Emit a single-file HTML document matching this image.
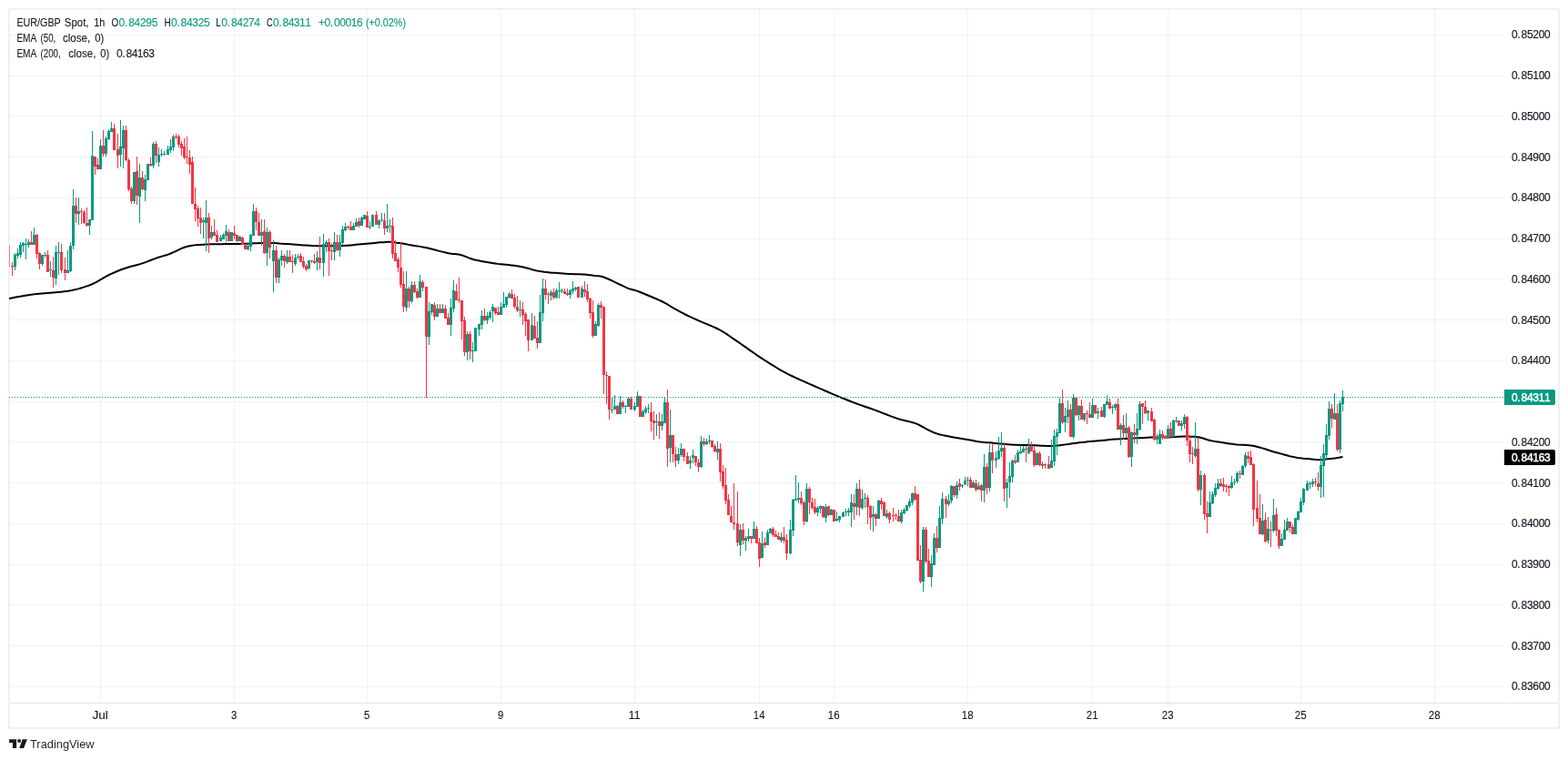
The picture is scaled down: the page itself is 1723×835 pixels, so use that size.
<!DOCTYPE html>
<html lang="en"><head><meta charset="utf-8"><title>EUR/GBP Spot, 1h - TradingView</title>
<style>html,body{margin:0;padding:0;background:#fff;overflow:hidden}svg{display:block}text{font-family:"Liberation Sans",sans-serif}</style>
</head><body>
<svg width="1723" height="835" viewBox="0 0 1723 835">
<rect width="1723" height="835" fill="#fff"/>
<g fill="rgba(42,46,57,0.06)" shape-rendering="crispEdges">
<rect x="11" y="38" width="1642" height="1"/>
<rect x="11" y="83" width="1642" height="1"/>
<rect x="11" y="127" width="1642" height="1"/>
<rect x="11" y="172" width="1642" height="1"/>
<rect x="11" y="217" width="1642" height="1"/>
<rect x="11" y="262" width="1642" height="1"/>
<rect x="11" y="306" width="1642" height="1"/>
<rect x="11" y="351" width="1642" height="1"/>
<rect x="11" y="396" width="1642" height="1"/>
<rect x="11" y="441" width="1642" height="1"/>
<rect x="11" y="485" width="1642" height="1"/>
<rect x="11" y="530" width="1642" height="1"/>
<rect x="11" y="575" width="1642" height="1"/>
<rect x="11" y="620" width="1642" height="1"/>
<rect x="11" y="664" width="1642" height="1"/>
<rect x="11" y="709" width="1642" height="1"/>
<rect x="11" y="754" width="1642" height="1"/>
<rect x="110" y="11" width="1" height="761"/>
<rect x="257" y="11" width="1" height="761"/>
<rect x="403" y="11" width="1" height="761"/>
<rect x="550" y="11" width="1" height="761"/>
<rect x="697" y="11" width="1" height="761"/>
<rect x="834" y="11" width="1" height="761"/>
<rect x="916" y="11" width="1" height="761"/>
<rect x="1063" y="11" width="1" height="761"/>
<rect x="1200" y="11" width="1" height="761"/>
<rect x="1283" y="11" width="1" height="761"/>
<rect x="1429" y="11" width="1" height="761"/>
<rect x="1576" y="11" width="1" height="761"/>
</g>
<g fill="#eef0f5" shape-rendering="crispEdges">
<rect x="9" y="9" width="1705" height="2"/>
<rect x="9" y="799" width="1705" height="2"/>
<rect x="9" y="9" width="2" height="792"/>
<rect x="1712" y="9" width="2" height="792"/>
</g>
<g fill="#e0e3eb" shape-rendering="crispEdges">
<rect x="11" y="772" width="1642" height="1"/>
<rect x="1654" y="772" width="58" height="1"/>
</g>
<polyline points="10.0,328.00 13.0,327.40 16.0,326.81 19.0,326.24 22.0,325.69 25.0,325.17 28.0,324.67 31.0,324.20 34.0,323.77 37.0,323.37 40.0,323.02 43.0,322.71 46.0,322.44 49.0,322.18 52.0,321.94 55.0,321.70 58.0,321.46 61.0,321.21 64.0,320.94 67.0,320.64 70.0,320.31 73.0,319.93 76.0,319.50 79.0,318.98 82.0,318.34 85.0,317.60 88.0,316.77 91.0,315.86 94.0,314.89 97.0,313.85 100.0,312.72 103.0,311.36 106.0,309.80 109.0,308.12 112.0,306.38 115.0,304.64 118.0,302.99 121.0,301.46 124.0,300.10 127.0,298.78 130.0,297.51 133.0,296.30 136.0,295.19 139.0,294.18 142.0,293.29 145.0,292.49 148.0,291.72 151.0,290.95 154.0,290.11 157.0,289.17 160.0,288.09 163.0,286.93 166.0,285.74 169.0,284.57 172.0,283.50 175.0,282.55 178.0,281.66 181.0,280.78 184.0,279.84 187.0,278.75 190.0,277.45 193.0,276.03 196.0,274.58 199.0,273.19 202.0,271.96 205.0,270.97 208.0,270.31 211.0,269.80 214.0,269.38 217.0,269.07 220.0,268.88 223.0,268.71 226.0,268.58 229.0,268.47 232.0,268.37 235.0,268.30 238.0,268.24 241.0,268.19 244.0,268.14 247.0,268.10 250.0,268.07 253.0,268.03 256.0,267.99 259.0,267.95 262.0,267.92 265.0,267.88 268.0,267.84 271.0,267.78 274.0,267.66 277.0,267.49 280.0,267.32 283.0,267.18 286.0,267.11 289.0,267.10 292.0,267.10 295.0,267.10 298.0,267.10 301.0,267.10 304.0,267.26 307.0,267.57 310.0,267.76 313.0,267.92 316.0,268.07 319.0,268.24 322.0,268.44 325.0,268.69 328.0,268.96 331.0,269.21 334.0,269.44 337.0,269.62 340.0,269.81 343.0,269.99 346.0,270.12 349.0,270.19 352.0,270.20 355.0,270.19 358.0,270.18 361.0,270.16 364.0,270.13 367.0,270.10 370.0,270.07 373.0,270.03 376.0,269.98 379.0,269.86 382.0,269.67 385.0,269.42 388.0,269.15 391.0,268.86 394.0,268.59 397.0,268.33 400.0,268.05 403.0,267.77 406.0,267.48 409.0,267.19 412.0,266.91 415.0,266.60 418.0,266.34 421.0,266.14 424.0,265.98 427.0,265.85 430.0,265.80 433.0,266.15 436.0,266.64 439.0,267.05 442.0,267.53 445.0,268.08 448.0,268.64 451.0,269.17 454.0,269.66 457.0,270.14 460.0,270.62 463.0,271.13 466.0,271.70 469.0,272.34 472.0,273.05 475.0,273.81 478.0,274.59 481.0,275.38 484.0,276.15 487.0,276.88 490.0,277.56 493.0,278.16 496.0,278.65 499.0,279.01 502.0,279.35 505.0,279.80 508.0,280.57 511.0,281.66 514.0,282.89 517.0,284.06 520.0,285.00 523.0,285.72 526.0,286.35 529.0,286.93 532.0,287.48 535.0,288.00 538.0,288.51 541.0,289.01 544.0,289.46 547.0,289.88 550.0,290.22 553.0,290.51 556.0,290.78 559.0,291.08 562.0,291.45 565.0,291.85 568.0,292.29 571.0,292.77 574.0,293.31 577.0,293.94 580.0,294.76 583.0,295.66 586.0,296.55 589.0,297.30 592.0,297.86 595.0,298.35 598.0,298.77 601.0,299.10 604.0,299.39 607.0,299.63 610.0,299.85 613.0,300.07 616.0,300.30 619.0,300.52 622.0,300.72 625.0,300.90 628.0,301.04 631.0,301.14 634.0,301.22 637.0,301.30 640.0,301.41 643.0,301.57 646.0,301.90 649.0,302.33 652.0,302.77 655.0,303.09 658.0,303.30 661.0,303.69 664.0,304.72 667.0,306.00 670.0,307.27 673.0,308.67 676.0,310.12 679.0,311.58 682.0,313.00 685.0,314.45 688.0,315.90 691.0,317.16 694.0,318.04 697.0,318.73 700.0,319.64 703.0,320.74 706.0,321.96 709.0,323.23 712.0,324.50 715.0,325.75 718.0,327.00 721.0,328.28 724.0,329.61 727.0,331.01 730.0,332.50 733.0,334.17 736.0,336.00 739.0,337.82 742.0,339.53 745.0,341.22 748.0,342.87 751.0,344.47 754.0,346.00 757.0,347.45 760.0,348.83 763.0,350.18 766.0,351.51 769.0,352.84 772.0,354.12 775.0,355.36 778.0,356.58 781.0,357.82 784.0,359.12 787.0,360.50 790.0,362.00 793.0,363.67 796.0,365.50 799.0,367.46 802.0,369.50 805.0,371.58 808.0,373.65 811.0,375.67 814.0,377.73 817.0,379.82 820.0,381.94 823.0,384.07 826.0,386.19 829.0,388.29 832.0,390.35 835.0,392.35 838.0,394.29 841.0,396.23 844.0,398.16 847.0,400.06 850.0,401.93 853.0,403.77 856.0,405.55 859.0,407.28 862.0,408.94 865.0,410.52 868.0,412.03 871.0,413.48 874.0,414.88 877.0,416.25 880.0,417.59 883.0,418.91 886.0,420.23 889.0,421.55 892.0,422.89 895.0,424.23 898.0,425.56 901.0,426.88 904.0,428.19 907.0,429.49 910.0,430.78 913.0,432.06 916.0,433.33 919.0,434.58 922.0,435.83 925.0,437.07 928.0,438.29 931.0,439.51 934.0,440.70 937.0,441.86 940.0,443.00 943.0,444.10 946.0,445.16 949.0,446.20 952.0,447.22 955.0,448.25 958.0,449.29 961.0,450.36 964.0,451.48 967.0,452.64 970.0,453.82 973.0,455.00 976.0,456.18 979.0,457.32 982.0,458.42 985.0,459.46 988.0,460.42 991.0,461.27 994.0,461.99 997.0,462.66 1000.0,463.40 1003.0,464.22 1006.0,465.15 1009.0,466.36 1012.0,468.00 1015.0,469.70 1018.0,471.32 1021.0,472.89 1024.0,474.28 1027.0,475.55 1030.0,476.60 1033.0,477.41 1036.0,478.12 1039.0,478.75 1042.0,479.33 1045.0,479.90 1048.0,480.45 1051.0,480.95 1054.0,481.44 1057.0,481.91 1060.0,482.40 1063.0,482.90 1066.0,483.46 1069.0,484.06 1072.0,484.66 1075.0,485.19 1078.0,485.60 1081.0,485.89 1084.0,486.13 1087.0,486.35 1090.0,486.60 1093.0,486.90 1096.0,487.22 1099.0,487.55 1102.0,487.85 1105.0,488.10 1108.0,488.30 1111.0,488.49 1114.0,488.66 1117.0,488.79 1120.0,488.90 1123.0,488.97 1126.0,489.03 1129.0,489.08 1132.0,489.13 1135.0,489.20 1138.0,489.32 1141.0,489.49 1144.0,489.68 1147.0,489.87 1150.0,490.02 1153.0,490.09 1156.0,490.05 1159.0,489.82 1162.0,489.50 1165.0,489.17 1168.0,488.80 1171.0,488.37 1174.0,487.90 1177.0,487.45 1180.0,487.05 1183.0,486.68 1186.0,486.33 1189.0,485.99 1192.0,485.66 1195.0,485.36 1198.0,485.09 1201.0,484.83 1204.0,484.58 1207.0,484.33 1210.0,484.06 1213.0,483.76 1216.0,483.43 1219.0,483.10 1222.0,482.81 1225.0,482.57 1228.0,482.38 1231.0,482.22 1234.0,482.07 1237.0,481.92 1240.0,481.77 1243.0,481.63 1246.0,481.48 1249.0,481.34 1252.0,481.20 1255.0,481.05 1258.0,480.90 1261.0,480.71 1264.0,480.53 1267.0,480.45 1270.0,480.40 1273.0,480.36 1276.0,480.33 1279.0,480.30 1282.0,480.26 1285.0,480.20 1288.0,480.10 1291.0,479.96 1294.0,479.80 1297.0,479.65 1300.0,479.54 1303.0,479.50 1306.0,479.54 1309.0,479.64 1312.0,479.80 1315.0,480.00 1318.0,480.46 1321.0,481.29 1324.0,482.30 1327.0,483.28 1330.0,484.04 1333.0,484.61 1336.0,485.12 1339.0,485.58 1342.0,486.03 1345.0,486.48 1348.0,486.94 1351.0,487.41 1354.0,487.85 1357.0,488.23 1360.0,488.52 1363.0,488.72 1366.0,488.86 1369.0,488.99 1372.0,489.15 1375.0,489.40 1378.0,489.93 1381.0,490.74 1384.0,491.58 1387.0,492.41 1390.0,493.29 1393.0,494.26 1396.0,495.31 1399.0,496.30 1402.0,497.08 1405.0,497.80 1408.0,498.61 1411.0,499.47 1414.0,500.33 1417.0,501.12 1420.0,501.78 1423.0,502.37 1426.0,502.90 1429.0,503.36 1432.0,503.70 1435.0,503.91 1438.0,504.10 1441.0,504.41 1444.0,504.79 1447.0,505.09 1450.0,505.20 1453.0,505.04 1456.0,504.72 1459.0,504.36 1462.0,504.04 1465.0,503.69 1468.0,503.30 1471.0,502.83 1474.0,502.23 1475.5,501.90" fill="none" stroke="#000" stroke-width="2" stroke-linejoin="round" stroke-linecap="butt"/>
<defs><clipPath id="pc"><rect x="10" y="10" width="1643" height="762.3"/></clipPath></defs>
<g clip-path="url(#pc)" shape-rendering="crispEdges">
<rect x="9" y="269" width="1" height="24" fill="#f6808a"/>
<rect x="8" y="269" width="3" height="24" fill="#f6808a"/>
<rect x="13" y="288" width="1" height="15" fill="#f23645"/>
<rect x="12" y="292" width="3" height="1" fill="#f23645"/>
<rect x="16" y="278" width="1" height="19" fill="#089981"/>
<rect x="15" y="280" width="3" height="13" fill="#089981"/>
<rect x="19" y="273" width="1" height="11" fill="#089981"/>
<rect x="18" y="278" width="3" height="3" fill="#089981"/>
<rect x="22" y="266" width="1" height="17" fill="#089981"/>
<rect x="21" y="269" width="3" height="11" fill="#089981"/>
<rect x="25" y="266" width="1" height="11" fill="#089981"/>
<rect x="24" y="267" width="3" height="3" fill="#089981"/>
<rect x="28" y="262" width="1" height="23" fill="#089981"/>
<rect x="27" y="268" width="3" height="1" fill="#089981"/>
<rect x="31" y="263" width="1" height="9" fill="#089981"/>
<rect x="30" y="266" width="3" height="3" fill="#089981"/>
<rect x="34" y="254" width="1" height="15" fill="#f23645"/>
<rect x="33" y="266" width="3" height="3" fill="#f23645"/>
<rect x="37" y="250" width="1" height="19" fill="#089981"/>
<rect x="36" y="258" width="3" height="11" fill="#089981"/>
<rect x="40" y="257" width="1" height="27" fill="#f23645"/>
<rect x="39" y="258" width="3" height="21" fill="#f23645"/>
<rect x="43" y="277" width="1" height="19" fill="#f23645"/>
<rect x="42" y="278" width="3" height="12" fill="#f23645"/>
<rect x="46" y="280" width="1" height="12" fill="#089981"/>
<rect x="45" y="280" width="3" height="10" fill="#089981"/>
<rect x="49" y="277" width="1" height="6" fill="#089981"/>
<rect x="48" y="280" width="3" height="1" fill="#089981"/>
<rect x="52" y="275" width="1" height="24" fill="#f23645"/>
<rect x="51" y="280" width="3" height="19" fill="#f23645"/>
<rect x="55" y="287" width="1" height="17" fill="#089981"/>
<rect x="54" y="296" width="3" height="1" fill="#089981"/>
<rect x="58" y="282" width="1" height="34" fill="#f23645"/>
<rect x="57" y="297" width="3" height="8" fill="#f23645"/>
<rect x="61" y="270" width="1" height="43" fill="#089981"/>
<rect x="60" y="277" width="3" height="29" fill="#089981"/>
<rect x="64" y="266" width="1" height="36" fill="#089981"/>
<rect x="63" y="277" width="3" height="1" fill="#089981"/>
<rect x="67" y="268" width="1" height="32" fill="#f23645"/>
<rect x="66" y="277" width="3" height="20" fill="#f23645"/>
<rect x="71" y="283" width="1" height="25" fill="#f23645"/>
<rect x="70" y="296" width="3" height="4" fill="#f23645"/>
<rect x="74" y="275" width="1" height="25" fill="#089981"/>
<rect x="73" y="297" width="3" height="3" fill="#089981"/>
<rect x="77" y="266" width="1" height="33" fill="#089981"/>
<rect x="76" y="270" width="3" height="28" fill="#089981"/>
<rect x="80" y="208" width="1" height="66" fill="#089981"/>
<rect x="79" y="226" width="3" height="44" fill="#089981"/>
<rect x="83" y="217" width="1" height="28" fill="#f23645"/>
<rect x="82" y="226" width="3" height="9" fill="#f23645"/>
<rect x="86" y="217" width="1" height="30" fill="#089981"/>
<rect x="85" y="232" width="3" height="3" fill="#089981"/>
<rect x="89" y="229" width="1" height="17" fill="#f23645"/>
<rect x="88" y="232" width="3" height="1" fill="#f23645"/>
<rect x="92" y="231" width="1" height="15" fill="#f23645"/>
<rect x="91" y="233" width="3" height="12" fill="#f23645"/>
<rect x="95" y="228" width="1" height="21" fill="#f23645"/>
<rect x="94" y="245" width="3" height="3" fill="#f23645"/>
<rect x="98" y="241" width="1" height="17" fill="#089981"/>
<rect x="97" y="241" width="3" height="7" fill="#089981"/>
<rect x="101" y="144" width="1" height="98" fill="#089981"/>
<rect x="100" y="171" width="3" height="71" fill="#089981"/>
<rect x="104" y="172" width="1" height="20" fill="#f23645"/>
<rect x="103" y="172" width="3" height="11" fill="#f23645"/>
<rect x="107" y="174" width="1" height="12" fill="#f23645"/>
<rect x="106" y="181" width="3" height="5" fill="#f23645"/>
<rect x="110" y="153" width="1" height="33" fill="#089981"/>
<rect x="109" y="160" width="3" height="26" fill="#089981"/>
<rect x="113" y="143" width="1" height="29" fill="#f23645"/>
<rect x="112" y="160" width="3" height="9" fill="#f23645"/>
<rect x="116" y="150" width="1" height="22" fill="#089981"/>
<rect x="115" y="152" width="3" height="17" fill="#089981"/>
<rect x="119" y="142" width="1" height="12" fill="#089981"/>
<rect x="118" y="144" width="3" height="9" fill="#089981"/>
<rect x="122" y="134" width="1" height="11" fill="#089981"/>
<rect x="121" y="141" width="3" height="4" fill="#089981"/>
<rect x="125" y="136" width="1" height="29" fill="#f23645"/>
<rect x="124" y="141" width="3" height="24" fill="#f23645"/>
<rect x="129" y="147" width="1" height="38" fill="#f23645"/>
<rect x="128" y="164" width="3" height="7" fill="#f23645"/>
<rect x="132" y="132" width="1" height="51" fill="#089981"/>
<rect x="131" y="161" width="3" height="9" fill="#089981"/>
<rect x="135" y="138" width="1" height="47" fill="#089981"/>
<rect x="134" y="143" width="3" height="20" fill="#089981"/>
<rect x="138" y="138" width="1" height="39" fill="#f23645"/>
<rect x="137" y="143" width="3" height="33" fill="#f23645"/>
<rect x="141" y="174" width="1" height="36" fill="#f23645"/>
<rect x="140" y="176" width="3" height="32" fill="#f23645"/>
<rect x="144" y="205" width="1" height="19" fill="#f23645"/>
<rect x="143" y="207" width="3" height="14" fill="#f23645"/>
<rect x="147" y="189" width="1" height="35" fill="#089981"/>
<rect x="146" y="189" width="3" height="32" fill="#089981"/>
<rect x="150" y="172" width="1" height="53" fill="#f23645"/>
<rect x="149" y="188" width="3" height="27" fill="#f23645"/>
<rect x="153" y="180" width="1" height="65" fill="#089981"/>
<rect x="152" y="195" width="3" height="21" fill="#089981"/>
<rect x="156" y="188" width="1" height="21" fill="#f23645"/>
<rect x="155" y="195" width="3" height="13" fill="#f23645"/>
<rect x="159" y="192" width="1" height="29" fill="#089981"/>
<rect x="158" y="197" width="3" height="12" fill="#089981"/>
<rect x="162" y="180" width="1" height="18" fill="#089981"/>
<rect x="161" y="180" width="3" height="18" fill="#089981"/>
<rect x="165" y="173" width="1" height="10" fill="#f23645"/>
<rect x="164" y="180" width="3" height="2" fill="#f23645"/>
<rect x="168" y="156" width="1" height="29" fill="#089981"/>
<rect x="167" y="158" width="3" height="24" fill="#089981"/>
<rect x="171" y="155" width="1" height="24" fill="#f23645"/>
<rect x="170" y="158" width="3" height="13" fill="#f23645"/>
<rect x="174" y="162" width="1" height="21" fill="#089981"/>
<rect x="173" y="170" width="3" height="8" fill="#089981"/>
<rect x="177" y="164" width="1" height="8" fill="#089981"/>
<rect x="176" y="169" width="3" height="1" fill="#089981"/>
<rect x="180" y="166" width="1" height="5" fill="#089981"/>
<rect x="179" y="169" width="3" height="1" fill="#089981"/>
<rect x="184" y="160" width="1" height="10" fill="#089981"/>
<rect x="183" y="164" width="3" height="6" fill="#089981"/>
<rect x="187" y="153" width="1" height="15" fill="#089981"/>
<rect x="186" y="161" width="3" height="4" fill="#089981"/>
<rect x="190" y="148" width="1" height="18" fill="#089981"/>
<rect x="189" y="150" width="3" height="12" fill="#089981"/>
<rect x="193" y="147" width="1" height="6" fill="#f23645"/>
<rect x="192" y="150" width="3" height="1" fill="#f23645"/>
<rect x="196" y="148" width="1" height="14" fill="#f23645"/>
<rect x="195" y="150" width="3" height="9" fill="#f23645"/>
<rect x="199" y="155" width="1" height="16" fill="#f23645"/>
<rect x="198" y="158" width="3" height="5" fill="#f23645"/>
<rect x="202" y="152" width="1" height="23" fill="#f23645"/>
<rect x="201" y="161" width="3" height="12" fill="#f23645"/>
<rect x="205" y="150" width="1" height="30" fill="#f23645"/>
<rect x="204" y="172" width="3" height="1" fill="#f23645"/>
<rect x="208" y="165" width="1" height="26" fill="#f23645"/>
<rect x="207" y="173" width="3" height="8" fill="#f23645"/>
<rect x="211" y="172" width="1" height="52" fill="#f23645"/>
<rect x="210" y="178" width="3" height="46" fill="#f23645"/>
<rect x="214" y="206" width="1" height="37" fill="#f23645"/>
<rect x="213" y="224" width="3" height="6" fill="#f23645"/>
<rect x="217" y="226" width="1" height="23" fill="#f23645"/>
<rect x="216" y="229" width="3" height="11" fill="#f23645"/>
<rect x="220" y="228" width="1" height="29" fill="#f23645"/>
<rect x="219" y="239" width="3" height="6" fill="#f23645"/>
<rect x="223" y="239" width="1" height="23" fill="#089981"/>
<rect x="222" y="242" width="3" height="2" fill="#089981"/>
<rect x="226" y="220" width="1" height="56" fill="#089981"/>
<rect x="225" y="239" width="3" height="6" fill="#089981"/>
<rect x="229" y="234" width="1" height="44" fill="#f23645"/>
<rect x="228" y="239" width="3" height="23" fill="#f23645"/>
<rect x="232" y="248" width="1" height="15" fill="#089981"/>
<rect x="231" y="255" width="3" height="6" fill="#089981"/>
<rect x="235" y="241" width="1" height="18" fill="#f23645"/>
<rect x="234" y="255" width="3" height="4" fill="#f23645"/>
<rect x="238" y="253" width="1" height="13" fill="#f23645"/>
<rect x="237" y="258" width="3" height="8" fill="#f23645"/>
<rect x="242" y="258" width="1" height="7" fill="#089981"/>
<rect x="241" y="261" width="3" height="4" fill="#089981"/>
<rect x="245" y="256" width="1" height="7" fill="#089981"/>
<rect x="244" y="258" width="3" height="5" fill="#089981"/>
<rect x="248" y="247" width="1" height="19" fill="#089981"/>
<rect x="247" y="254" width="3" height="5" fill="#089981"/>
<rect x="251" y="252" width="1" height="13" fill="#f23645"/>
<rect x="250" y="255" width="3" height="10" fill="#f23645"/>
<rect x="254" y="255" width="1" height="10" fill="#089981"/>
<rect x="253" y="255" width="3" height="10" fill="#089981"/>
<rect x="257" y="248" width="1" height="15" fill="#f23645"/>
<rect x="256" y="256" width="3" height="3" fill="#f23645"/>
<rect x="260" y="258" width="1" height="8" fill="#f23645"/>
<rect x="259" y="258" width="3" height="7" fill="#f23645"/>
<rect x="263" y="259" width="1" height="6" fill="#089981"/>
<rect x="262" y="260" width="3" height="5" fill="#089981"/>
<rect x="266" y="260" width="1" height="9" fill="#f23645"/>
<rect x="265" y="261" width="3" height="8" fill="#f23645"/>
<rect x="269" y="268" width="1" height="6" fill="#f23645"/>
<rect x="268" y="268" width="3" height="6" fill="#f23645"/>
<rect x="272" y="266" width="1" height="9" fill="#089981"/>
<rect x="271" y="270" width="3" height="4" fill="#089981"/>
<rect x="275" y="257" width="1" height="19" fill="#089981"/>
<rect x="274" y="258" width="3" height="13" fill="#089981"/>
<rect x="278" y="224" width="1" height="35" fill="#089981"/>
<rect x="277" y="232" width="3" height="27" fill="#089981"/>
<rect x="281" y="228" width="1" height="25" fill="#f23645"/>
<rect x="280" y="232" width="3" height="12" fill="#f23645"/>
<rect x="284" y="234" width="1" height="25" fill="#f23645"/>
<rect x="283" y="244" width="3" height="15" fill="#f23645"/>
<rect x="287" y="241" width="1" height="29" fill="#089981"/>
<rect x="286" y="255" width="3" height="4" fill="#089981"/>
<rect x="290" y="241" width="1" height="38" fill="#f23645"/>
<rect x="289" y="254" width="3" height="24" fill="#f23645"/>
<rect x="293" y="250" width="1" height="42" fill="#089981"/>
<rect x="292" y="255" width="3" height="23" fill="#089981"/>
<rect x="296" y="253" width="1" height="31" fill="#f23645"/>
<rect x="295" y="255" width="3" height="17" fill="#f23645"/>
<rect x="300" y="264" width="1" height="57" fill="#089981"/>
<rect x="299" y="275" width="3" height="12" fill="#089981"/>
<rect x="303" y="270" width="1" height="41" fill="#f23645"/>
<rect x="302" y="275" width="3" height="30" fill="#f23645"/>
<rect x="306" y="283" width="1" height="28" fill="#089981"/>
<rect x="305" y="285" width="3" height="20" fill="#089981"/>
<rect x="309" y="275" width="1" height="17" fill="#089981"/>
<rect x="308" y="281" width="3" height="5" fill="#089981"/>
<rect x="312" y="279" width="1" height="15" fill="#f23645"/>
<rect x="311" y="281" width="3" height="6" fill="#f23645"/>
<rect x="315" y="275" width="1" height="15" fill="#089981"/>
<rect x="314" y="282" width="3" height="6" fill="#089981"/>
<rect x="318" y="275" width="1" height="13" fill="#f23645"/>
<rect x="317" y="282" width="3" height="6" fill="#f23645"/>
<rect x="321" y="280" width="1" height="20" fill="#f23645"/>
<rect x="320" y="287" width="3" height="1" fill="#f23645"/>
<rect x="324" y="279" width="1" height="13" fill="#089981"/>
<rect x="323" y="283" width="3" height="7" fill="#089981"/>
<rect x="327" y="279" width="1" height="6" fill="#089981"/>
<rect x="326" y="282" width="3" height="1" fill="#089981"/>
<rect x="330" y="278" width="1" height="10" fill="#f23645"/>
<rect x="329" y="281" width="3" height="7" fill="#f23645"/>
<rect x="333" y="282" width="1" height="13" fill="#f23645"/>
<rect x="332" y="287" width="3" height="6" fill="#f23645"/>
<rect x="336" y="290" width="1" height="8" fill="#f23645"/>
<rect x="335" y="292" width="3" height="4" fill="#f23645"/>
<rect x="339" y="286" width="1" height="10" fill="#089981"/>
<rect x="338" y="286" width="3" height="9" fill="#089981"/>
<rect x="342" y="286" width="1" height="3" fill="#f23645"/>
<rect x="341" y="286" width="3" height="1" fill="#f23645"/>
<rect x="345" y="279" width="1" height="11" fill="#f23645"/>
<rect x="344" y="287" width="3" height="2" fill="#f23645"/>
<rect x="348" y="276" width="1" height="21" fill="#089981"/>
<rect x="347" y="283" width="3" height="5" fill="#089981"/>
<rect x="351" y="260" width="1" height="36" fill="#f23645"/>
<rect x="350" y="283" width="3" height="6" fill="#f23645"/>
<rect x="355" y="257" width="1" height="47" fill="#089981"/>
<rect x="354" y="268" width="3" height="21" fill="#089981"/>
<rect x="358" y="264" width="1" height="13" fill="#089981"/>
<rect x="357" y="266" width="3" height="4" fill="#089981"/>
<rect x="361" y="262" width="1" height="41" fill="#f23645"/>
<rect x="360" y="266" width="3" height="10" fill="#f23645"/>
<rect x="364" y="267" width="1" height="19" fill="#f23645"/>
<rect x="363" y="275" width="3" height="1" fill="#f23645"/>
<rect x="367" y="255" width="1" height="31" fill="#089981"/>
<rect x="366" y="266" width="3" height="11" fill="#089981"/>
<rect x="370" y="258" width="1" height="18" fill="#f23645"/>
<rect x="369" y="266" width="3" height="9" fill="#f23645"/>
<rect x="373" y="258" width="1" height="24" fill="#089981"/>
<rect x="372" y="266" width="3" height="9" fill="#089981"/>
<rect x="376" y="248" width="1" height="21" fill="#089981"/>
<rect x="375" y="252" width="3" height="15" fill="#089981"/>
<rect x="379" y="245" width="1" height="9" fill="#089981"/>
<rect x="378" y="249" width="3" height="4" fill="#089981"/>
<rect x="382" y="248" width="1" height="4" fill="#f23645"/>
<rect x="381" y="249" width="3" height="1" fill="#f23645"/>
<rect x="385" y="243" width="1" height="10" fill="#f23645"/>
<rect x="384" y="249" width="3" height="4" fill="#f23645"/>
<rect x="388" y="245" width="1" height="8" fill="#089981"/>
<rect x="387" y="248" width="3" height="5" fill="#089981"/>
<rect x="391" y="240" width="1" height="9" fill="#089981"/>
<rect x="390" y="244" width="3" height="5" fill="#089981"/>
<rect x="394" y="239" width="1" height="11" fill="#f23645"/>
<rect x="393" y="243" width="3" height="5" fill="#f23645"/>
<rect x="397" y="238" width="1" height="10" fill="#089981"/>
<rect x="396" y="239" width="3" height="9" fill="#089981"/>
<rect x="400" y="236" width="1" height="5" fill="#089981"/>
<rect x="399" y="236" width="3" height="5" fill="#089981"/>
<rect x="403" y="232" width="1" height="18" fill="#f23645"/>
<rect x="402" y="237" width="3" height="13" fill="#f23645"/>
<rect x="406" y="243" width="1" height="9" fill="#089981"/>
<rect x="405" y="249" width="3" height="1" fill="#089981"/>
<rect x="409" y="236" width="1" height="13" fill="#089981"/>
<rect x="408" y="236" width="3" height="13" fill="#089981"/>
<rect x="413" y="232" width="1" height="15" fill="#f23645"/>
<rect x="412" y="236" width="3" height="11" fill="#f23645"/>
<rect x="416" y="241" width="1" height="10" fill="#089981"/>
<rect x="415" y="242" width="3" height="5" fill="#089981"/>
<rect x="419" y="234" width="1" height="10" fill="#089981"/>
<rect x="418" y="241" width="3" height="1" fill="#089981"/>
<rect x="422" y="234" width="1" height="24" fill="#f23645"/>
<rect x="421" y="242" width="3" height="9" fill="#f23645"/>
<rect x="425" y="224" width="1" height="31" fill="#089981"/>
<rect x="424" y="248" width="3" height="3" fill="#089981"/>
<rect x="428" y="241" width="1" height="15" fill="#089981"/>
<rect x="427" y="248" width="3" height="1" fill="#089981"/>
<rect x="431" y="239" width="1" height="45" fill="#f23645"/>
<rect x="430" y="248" width="3" height="31" fill="#f23645"/>
<rect x="434" y="264" width="1" height="23" fill="#f23645"/>
<rect x="433" y="278" width="3" height="9" fill="#f23645"/>
<rect x="437" y="283" width="1" height="16" fill="#f23645"/>
<rect x="436" y="285" width="3" height="9" fill="#f23645"/>
<rect x="440" y="266" width="1" height="50" fill="#f23645"/>
<rect x="439" y="294" width="3" height="19" fill="#f23645"/>
<rect x="443" y="298" width="1" height="45" fill="#f23645"/>
<rect x="442" y="312" width="3" height="25" fill="#f23645"/>
<rect x="446" y="298" width="1" height="44" fill="#089981"/>
<rect x="445" y="317" width="3" height="21" fill="#089981"/>
<rect x="449" y="315" width="1" height="23" fill="#f23645"/>
<rect x="448" y="317" width="3" height="14" fill="#f23645"/>
<rect x="452" y="309" width="1" height="24" fill="#089981"/>
<rect x="451" y="313" width="3" height="18" fill="#089981"/>
<rect x="455" y="309" width="1" height="13" fill="#f23645"/>
<rect x="454" y="313" width="3" height="8" fill="#f23645"/>
<rect x="458" y="317" width="1" height="11" fill="#f23645"/>
<rect x="457" y="320" width="3" height="7" fill="#f23645"/>
<rect x="461" y="302" width="1" height="25" fill="#089981"/>
<rect x="460" y="309" width="3" height="18" fill="#089981"/>
<rect x="464" y="308" width="1" height="12" fill="#f23645"/>
<rect x="463" y="310" width="3" height="6" fill="#f23645"/>
<rect x="468" y="315" width="1" height="122" fill="#f23645"/>
<rect x="467" y="315" width="3" height="55" fill="#f23645"/>
<rect x="471" y="332" width="1" height="47" fill="#089981"/>
<rect x="470" y="342" width="3" height="28" fill="#089981"/>
<rect x="474" y="334" width="1" height="12" fill="#089981"/>
<rect x="473" y="334" width="3" height="9" fill="#089981"/>
<rect x="477" y="332" width="1" height="20" fill="#f23645"/>
<rect x="476" y="335" width="3" height="13" fill="#f23645"/>
<rect x="480" y="334" width="1" height="14" fill="#089981"/>
<rect x="479" y="339" width="3" height="9" fill="#089981"/>
<rect x="483" y="334" width="1" height="10" fill="#f23645"/>
<rect x="482" y="339" width="3" height="5" fill="#f23645"/>
<rect x="486" y="334" width="1" height="10" fill="#089981"/>
<rect x="485" y="339" width="3" height="5" fill="#089981"/>
<rect x="489" y="335" width="1" height="15" fill="#f23645"/>
<rect x="488" y="339" width="3" height="11" fill="#f23645"/>
<rect x="492" y="344" width="1" height="13" fill="#f23645"/>
<rect x="491" y="349" width="3" height="8" fill="#f23645"/>
<rect x="495" y="328" width="1" height="41" fill="#089981"/>
<rect x="494" y="338" width="3" height="19" fill="#089981"/>
<rect x="498" y="308" width="1" height="35" fill="#089981"/>
<rect x="497" y="319" width="3" height="20" fill="#089981"/>
<rect x="501" y="312" width="1" height="18" fill="#f23645"/>
<rect x="500" y="320" width="3" height="10" fill="#f23645"/>
<rect x="504" y="305" width="1" height="28" fill="#f23645"/>
<rect x="503" y="329" width="3" height="1" fill="#f23645"/>
<rect x="507" y="330" width="1" height="43" fill="#f23645"/>
<rect x="506" y="330" width="3" height="23" fill="#f23645"/>
<rect x="510" y="348" width="1" height="43" fill="#f23645"/>
<rect x="509" y="352" width="3" height="35" fill="#f23645"/>
<rect x="513" y="364" width="1" height="32" fill="#089981"/>
<rect x="512" y="367" width="3" height="20" fill="#089981"/>
<rect x="516" y="364" width="1" height="31" fill="#f23645"/>
<rect x="515" y="367" width="3" height="19" fill="#f23645"/>
<rect x="519" y="376" width="1" height="22" fill="#089981"/>
<rect x="518" y="385" width="3" height="1" fill="#089981"/>
<rect x="522" y="360" width="1" height="26" fill="#089981"/>
<rect x="521" y="360" width="3" height="26" fill="#089981"/>
<rect x="526" y="356" width="1" height="13" fill="#089981"/>
<rect x="525" y="356" width="3" height="6" fill="#089981"/>
<rect x="529" y="341" width="1" height="21" fill="#089981"/>
<rect x="528" y="347" width="3" height="10" fill="#089981"/>
<rect x="532" y="339" width="1" height="14" fill="#f23645"/>
<rect x="531" y="347" width="3" height="5" fill="#f23645"/>
<rect x="535" y="343" width="1" height="13" fill="#089981"/>
<rect x="534" y="347" width="3" height="5" fill="#089981"/>
<rect x="538" y="341" width="1" height="10" fill="#089981"/>
<rect x="537" y="343" width="3" height="6" fill="#089981"/>
<rect x="541" y="334" width="1" height="20" fill="#089981"/>
<rect x="540" y="337" width="3" height="5" fill="#089981"/>
<rect x="544" y="338" width="1" height="8" fill="#f23645"/>
<rect x="543" y="338" width="3" height="6" fill="#f23645"/>
<rect x="547" y="337" width="1" height="9" fill="#f23645"/>
<rect x="546" y="343" width="3" height="3" fill="#f23645"/>
<rect x="550" y="332" width="1" height="14" fill="#089981"/>
<rect x="549" y="337" width="3" height="9" fill="#089981"/>
<rect x="553" y="321" width="1" height="17" fill="#089981"/>
<rect x="552" y="334" width="3" height="4" fill="#089981"/>
<rect x="556" y="326" width="1" height="12" fill="#089981"/>
<rect x="555" y="326" width="3" height="9" fill="#089981"/>
<rect x="559" y="321" width="1" height="7" fill="#089981"/>
<rect x="558" y="323" width="3" height="4" fill="#089981"/>
<rect x="562" y="318" width="1" height="10" fill="#f23645"/>
<rect x="561" y="323" width="3" height="5" fill="#f23645"/>
<rect x="565" y="323" width="1" height="16" fill="#f23645"/>
<rect x="564" y="327" width="3" height="10" fill="#f23645"/>
<rect x="568" y="325" width="1" height="18" fill="#f23645"/>
<rect x="567" y="337" width="3" height="4" fill="#f23645"/>
<rect x="571" y="330" width="1" height="18" fill="#089981"/>
<rect x="570" y="340" width="3" height="1" fill="#089981"/>
<rect x="574" y="332" width="1" height="25" fill="#f23645"/>
<rect x="573" y="340" width="3" height="6" fill="#f23645"/>
<rect x="577" y="343" width="1" height="26" fill="#f23645"/>
<rect x="576" y="345" width="3" height="8" fill="#f23645"/>
<rect x="580" y="351" width="1" height="35" fill="#f23645"/>
<rect x="579" y="351" width="3" height="23" fill="#f23645"/>
<rect x="584" y="344" width="1" height="30" fill="#089981"/>
<rect x="583" y="357" width="3" height="17" fill="#089981"/>
<rect x="587" y="347" width="1" height="25" fill="#f23645"/>
<rect x="586" y="358" width="3" height="14" fill="#f23645"/>
<rect x="590" y="353" width="1" height="30" fill="#f23645"/>
<rect x="589" y="371" width="3" height="6" fill="#f23645"/>
<rect x="593" y="324" width="1" height="53" fill="#089981"/>
<rect x="592" y="343" width="3" height="34" fill="#089981"/>
<rect x="596" y="306" width="1" height="47" fill="#089981"/>
<rect x="595" y="317" width="3" height="27" fill="#089981"/>
<rect x="599" y="307" width="1" height="22" fill="#f23645"/>
<rect x="598" y="317" width="3" height="7" fill="#f23645"/>
<rect x="602" y="321" width="1" height="13" fill="#f23645"/>
<rect x="601" y="323" width="3" height="1" fill="#f23645"/>
<rect x="605" y="319" width="1" height="11" fill="#089981"/>
<rect x="604" y="321" width="3" height="4" fill="#089981"/>
<rect x="608" y="317" width="1" height="12" fill="#f23645"/>
<rect x="607" y="321" width="3" height="6" fill="#f23645"/>
<rect x="611" y="317" width="1" height="11" fill="#089981"/>
<rect x="610" y="319" width="3" height="8" fill="#089981"/>
<rect x="614" y="310" width="1" height="18" fill="#089981"/>
<rect x="613" y="319" width="3" height="1" fill="#089981"/>
<rect x="617" y="317" width="1" height="5" fill="#089981"/>
<rect x="616" y="319" width="3" height="1" fill="#089981"/>
<rect x="620" y="317" width="1" height="6" fill="#f23645"/>
<rect x="619" y="320" width="3" height="3" fill="#f23645"/>
<rect x="623" y="317" width="1" height="8" fill="#f23645"/>
<rect x="622" y="322" width="3" height="2" fill="#f23645"/>
<rect x="626" y="318" width="1" height="10" fill="#089981"/>
<rect x="625" y="319" width="3" height="5" fill="#089981"/>
<rect x="629" y="309" width="1" height="14" fill="#089981"/>
<rect x="628" y="317" width="3" height="3" fill="#089981"/>
<rect x="632" y="315" width="1" height="5" fill="#089981"/>
<rect x="631" y="316" width="3" height="2" fill="#089981"/>
<rect x="635" y="315" width="1" height="12" fill="#f23645"/>
<rect x="634" y="315" width="3" height="12" fill="#f23645"/>
<rect x="639" y="314" width="1" height="13" fill="#089981"/>
<rect x="638" y="317" width="3" height="10" fill="#089981"/>
<rect x="642" y="309" width="1" height="17" fill="#f23645"/>
<rect x="641" y="318" width="3" height="3" fill="#f23645"/>
<rect x="645" y="312" width="1" height="20" fill="#f23645"/>
<rect x="644" y="320" width="3" height="9" fill="#f23645"/>
<rect x="648" y="327" width="1" height="23" fill="#f23645"/>
<rect x="647" y="328" width="3" height="16" fill="#f23645"/>
<rect x="651" y="330" width="1" height="41" fill="#f23645"/>
<rect x="650" y="343" width="3" height="26" fill="#f23645"/>
<rect x="654" y="353" width="1" height="16" fill="#089981"/>
<rect x="653" y="356" width="3" height="13" fill="#089981"/>
<rect x="657" y="333" width="1" height="26" fill="#089981"/>
<rect x="656" y="335" width="3" height="23" fill="#089981"/>
<rect x="660" y="331" width="1" height="19" fill="#f23645"/>
<rect x="659" y="335" width="3" height="3" fill="#f23645"/>
<rect x="663" y="337" width="1" height="96" fill="#f23645"/>
<rect x="662" y="337" width="3" height="75" fill="#f23645"/>
<rect x="666" y="408" width="1" height="36" fill="#f23645"/>
<rect x="665" y="412" width="3" height="1" fill="#f23645"/>
<rect x="669" y="413" width="1" height="48" fill="#f23645"/>
<rect x="668" y="413" width="3" height="37" fill="#f23645"/>
<rect x="672" y="437" width="1" height="17" fill="#089981"/>
<rect x="671" y="450" width="3" height="1" fill="#089981"/>
<rect x="675" y="434" width="1" height="16" fill="#089981"/>
<rect x="674" y="446" width="3" height="4" fill="#089981"/>
<rect x="678" y="445" width="1" height="10" fill="#f23645"/>
<rect x="677" y="446" width="3" height="9" fill="#f23645"/>
<rect x="681" y="435" width="1" height="20" fill="#089981"/>
<rect x="680" y="442" width="3" height="13" fill="#089981"/>
<rect x="684" y="440" width="1" height="9" fill="#f23645"/>
<rect x="683" y="442" width="3" height="5" fill="#f23645"/>
<rect x="687" y="445" width="1" height="9" fill="#089981"/>
<rect x="686" y="446" width="3" height="1" fill="#089981"/>
<rect x="690" y="436" width="1" height="11" fill="#089981"/>
<rect x="689" y="438" width="3" height="9" fill="#089981"/>
<rect x="693" y="436" width="1" height="14" fill="#f23645"/>
<rect x="692" y="438" width="3" height="12" fill="#f23645"/>
<rect x="697" y="442" width="1" height="10" fill="#089981"/>
<rect x="696" y="446" width="3" height="4" fill="#089981"/>
<rect x="700" y="430" width="1" height="17" fill="#089981"/>
<rect x="699" y="435" width="3" height="12" fill="#089981"/>
<rect x="703" y="435" width="1" height="23" fill="#f23645"/>
<rect x="702" y="435" width="3" height="23" fill="#f23645"/>
<rect x="706" y="450" width="1" height="8" fill="#089981"/>
<rect x="705" y="452" width="3" height="6" fill="#089981"/>
<rect x="709" y="446" width="1" height="9" fill="#089981"/>
<rect x="708" y="449" width="3" height="4" fill="#089981"/>
<rect x="712" y="444" width="1" height="10" fill="#089981"/>
<rect x="711" y="448" width="3" height="1" fill="#089981"/>
<rect x="715" y="442" width="1" height="32" fill="#f23645"/>
<rect x="714" y="453" width="3" height="10" fill="#f23645"/>
<rect x="718" y="452" width="1" height="31" fill="#f23645"/>
<rect x="717" y="462" width="3" height="3" fill="#f23645"/>
<rect x="721" y="455" width="1" height="24" fill="#089981"/>
<rect x="720" y="463" width="3" height="1" fill="#089981"/>
<rect x="724" y="453" width="1" height="29" fill="#f23645"/>
<rect x="723" y="463" width="3" height="5" fill="#f23645"/>
<rect x="727" y="455" width="1" height="18" fill="#089981"/>
<rect x="726" y="463" width="3" height="5" fill="#089981"/>
<rect x="730" y="436" width="1" height="29" fill="#089981"/>
<rect x="729" y="442" width="3" height="23" fill="#089981"/>
<rect x="733" y="428" width="1" height="85" fill="#f23645"/>
<rect x="732" y="442" width="3" height="51" fill="#f23645"/>
<rect x="736" y="450" width="1" height="58" fill="#089981"/>
<rect x="735" y="478" width="3" height="14" fill="#089981"/>
<rect x="739" y="478" width="1" height="30" fill="#f23645"/>
<rect x="738" y="478" width="3" height="21" fill="#f23645"/>
<rect x="742" y="491" width="1" height="22" fill="#f23645"/>
<rect x="741" y="499" width="3" height="7" fill="#f23645"/>
<rect x="745" y="492" width="1" height="18" fill="#089981"/>
<rect x="744" y="499" width="3" height="7" fill="#089981"/>
<rect x="748" y="487" width="1" height="15" fill="#089981"/>
<rect x="747" y="493" width="3" height="7" fill="#089981"/>
<rect x="751" y="493" width="1" height="14" fill="#f23645"/>
<rect x="750" y="493" width="3" height="9" fill="#f23645"/>
<rect x="755" y="497" width="1" height="13" fill="#f23645"/>
<rect x="754" y="501" width="3" height="9" fill="#f23645"/>
<rect x="758" y="501" width="1" height="14" fill="#089981"/>
<rect x="757" y="506" width="3" height="3" fill="#089981"/>
<rect x="761" y="494" width="1" height="15" fill="#089981"/>
<rect x="760" y="500" width="3" height="3" fill="#089981"/>
<rect x="764" y="501" width="1" height="11" fill="#f23645"/>
<rect x="763" y="501" width="3" height="7" fill="#f23645"/>
<rect x="767" y="504" width="1" height="15" fill="#f23645"/>
<rect x="766" y="508" width="3" height="5" fill="#f23645"/>
<rect x="770" y="479" width="1" height="35" fill="#089981"/>
<rect x="769" y="485" width="3" height="28" fill="#089981"/>
<rect x="773" y="481" width="1" height="9" fill="#f23645"/>
<rect x="772" y="485" width="3" height="3" fill="#f23645"/>
<rect x="776" y="482" width="1" height="7" fill="#089981"/>
<rect x="775" y="485" width="3" height="3" fill="#089981"/>
<rect x="779" y="478" width="1" height="10" fill="#089981"/>
<rect x="778" y="484" width="3" height="1" fill="#089981"/>
<rect x="782" y="484" width="1" height="8" fill="#f23645"/>
<rect x="781" y="484" width="3" height="7" fill="#f23645"/>
<rect x="785" y="488" width="1" height="9" fill="#f23645"/>
<rect x="784" y="490" width="3" height="6" fill="#f23645"/>
<rect x="788" y="485" width="1" height="20" fill="#089981"/>
<rect x="787" y="493" width="3" height="4" fill="#089981"/>
<rect x="791" y="487" width="1" height="42" fill="#f23645"/>
<rect x="790" y="493" width="3" height="26" fill="#f23645"/>
<rect x="794" y="511" width="1" height="26" fill="#f23645"/>
<rect x="793" y="518" width="3" height="16" fill="#f23645"/>
<rect x="797" y="514" width="1" height="40" fill="#f23645"/>
<rect x="796" y="533" width="3" height="17" fill="#f23645"/>
<rect x="800" y="543" width="1" height="23" fill="#f23645"/>
<rect x="799" y="549" width="3" height="17" fill="#f23645"/>
<rect x="803" y="556" width="1" height="18" fill="#f23645"/>
<rect x="802" y="567" width="3" height="7" fill="#f23645"/>
<rect x="806" y="531" width="1" height="51" fill="#f23645"/>
<rect x="805" y="574" width="3" height="2" fill="#f23645"/>
<rect x="810" y="540" width="1" height="60" fill="#f23645"/>
<rect x="809" y="575" width="3" height="21" fill="#f23645"/>
<rect x="813" y="576" width="1" height="35" fill="#089981"/>
<rect x="812" y="582" width="3" height="17" fill="#089981"/>
<rect x="816" y="575" width="1" height="23" fill="#f23645"/>
<rect x="815" y="582" width="3" height="12" fill="#f23645"/>
<rect x="819" y="589" width="1" height="16" fill="#089981"/>
<rect x="818" y="591" width="3" height="3" fill="#089981"/>
<rect x="822" y="581" width="1" height="14" fill="#089981"/>
<rect x="821" y="589" width="3" height="3" fill="#089981"/>
<rect x="825" y="589" width="1" height="8" fill="#f23645"/>
<rect x="824" y="589" width="3" height="3" fill="#f23645"/>
<rect x="828" y="573" width="1" height="19" fill="#089981"/>
<rect x="827" y="581" width="3" height="11" fill="#089981"/>
<rect x="831" y="578" width="1" height="19" fill="#f23645"/>
<rect x="830" y="581" width="3" height="16" fill="#f23645"/>
<rect x="834" y="591" width="1" height="32" fill="#f23645"/>
<rect x="833" y="596" width="3" height="18" fill="#f23645"/>
<rect x="837" y="584" width="1" height="29" fill="#089981"/>
<rect x="836" y="597" width="3" height="16" fill="#089981"/>
<rect x="840" y="591" width="1" height="11" fill="#f23645"/>
<rect x="839" y="596" width="3" height="3" fill="#f23645"/>
<rect x="843" y="582" width="1" height="17" fill="#089981"/>
<rect x="842" y="585" width="3" height="14" fill="#089981"/>
<rect x="846" y="580" width="1" height="6" fill="#089981"/>
<rect x="845" y="581" width="3" height="5" fill="#089981"/>
<rect x="849" y="579" width="1" height="11" fill="#f23645"/>
<rect x="848" y="581" width="3" height="7" fill="#f23645"/>
<rect x="852" y="583" width="1" height="7" fill="#f23645"/>
<rect x="851" y="587" width="3" height="3" fill="#f23645"/>
<rect x="855" y="585" width="1" height="8" fill="#f23645"/>
<rect x="854" y="589" width="3" height="4" fill="#f23645"/>
<rect x="858" y="585" width="1" height="11" fill="#089981"/>
<rect x="857" y="590" width="3" height="4" fill="#089981"/>
<rect x="861" y="579" width="1" height="18" fill="#f23645"/>
<rect x="860" y="590" width="3" height="4" fill="#f23645"/>
<rect x="864" y="587" width="1" height="28" fill="#f23645"/>
<rect x="863" y="593" width="3" height="15" fill="#f23645"/>
<rect x="868" y="571" width="1" height="38" fill="#089981"/>
<rect x="867" y="582" width="3" height="26" fill="#089981"/>
<rect x="871" y="548" width="1" height="41" fill="#089981"/>
<rect x="870" y="549" width="3" height="34" fill="#089981"/>
<rect x="874" y="522" width="1" height="28" fill="#089981"/>
<rect x="873" y="548" width="3" height="2" fill="#089981"/>
<rect x="877" y="530" width="1" height="23" fill="#089981"/>
<rect x="876" y="547" width="3" height="2" fill="#089981"/>
<rect x="880" y="540" width="1" height="15" fill="#f23645"/>
<rect x="879" y="547" width="3" height="6" fill="#f23645"/>
<rect x="883" y="550" width="1" height="27" fill="#f23645"/>
<rect x="882" y="552" width="3" height="21" fill="#f23645"/>
<rect x="886" y="531" width="1" height="43" fill="#089981"/>
<rect x="885" y="537" width="3" height="36" fill="#089981"/>
<rect x="889" y="535" width="1" height="30" fill="#f23645"/>
<rect x="888" y="537" width="3" height="15" fill="#f23645"/>
<rect x="892" y="547" width="1" height="13" fill="#f23645"/>
<rect x="891" y="552" width="3" height="6" fill="#f23645"/>
<rect x="895" y="548" width="1" height="17" fill="#f23645"/>
<rect x="894" y="557" width="3" height="6" fill="#f23645"/>
<rect x="898" y="556" width="1" height="11" fill="#089981"/>
<rect x="897" y="558" width="3" height="5" fill="#089981"/>
<rect x="901" y="555" width="1" height="9" fill="#089981"/>
<rect x="900" y="556" width="3" height="3" fill="#089981"/>
<rect x="904" y="556" width="1" height="13" fill="#f23645"/>
<rect x="903" y="556" width="3" height="12" fill="#f23645"/>
<rect x="907" y="554" width="1" height="20" fill="#089981"/>
<rect x="906" y="557" width="3" height="12" fill="#089981"/>
<rect x="910" y="556" width="1" height="11" fill="#f23645"/>
<rect x="909" y="556" width="3" height="10" fill="#f23645"/>
<rect x="913" y="559" width="1" height="7" fill="#089981"/>
<rect x="912" y="560" width="3" height="6" fill="#089981"/>
<rect x="916" y="560" width="1" height="13" fill="#f23645"/>
<rect x="915" y="560" width="3" height="13" fill="#f23645"/>
<rect x="919" y="562" width="1" height="11" fill="#089981"/>
<rect x="918" y="570" width="3" height="2" fill="#089981"/>
<rect x="922" y="567" width="1" height="7" fill="#089981"/>
<rect x="921" y="567" width="3" height="4" fill="#089981"/>
<rect x="926" y="562" width="1" height="6" fill="#089981"/>
<rect x="925" y="563" width="3" height="5" fill="#089981"/>
<rect x="929" y="559" width="1" height="8" fill="#089981"/>
<rect x="928" y="562" width="3" height="1" fill="#089981"/>
<rect x="932" y="558" width="1" height="9" fill="#089981"/>
<rect x="931" y="561" width="3" height="2" fill="#089981"/>
<rect x="935" y="543" width="1" height="36" fill="#089981"/>
<rect x="934" y="552" width="3" height="11" fill="#089981"/>
<rect x="938" y="543" width="1" height="28" fill="#f23645"/>
<rect x="937" y="553" width="3" height="4" fill="#f23645"/>
<rect x="941" y="531" width="1" height="35" fill="#089981"/>
<rect x="940" y="537" width="3" height="20" fill="#089981"/>
<rect x="944" y="527" width="1" height="40" fill="#f23645"/>
<rect x="943" y="537" width="3" height="21" fill="#f23645"/>
<rect x="947" y="538" width="1" height="22" fill="#089981"/>
<rect x="946" y="548" width="3" height="10" fill="#089981"/>
<rect x="950" y="542" width="1" height="16" fill="#089981"/>
<rect x="949" y="547" width="3" height="1" fill="#089981"/>
<rect x="953" y="544" width="1" height="32" fill="#f23645"/>
<rect x="952" y="547" width="3" height="10" fill="#f23645"/>
<rect x="956" y="555" width="1" height="27" fill="#f23645"/>
<rect x="955" y="556" width="3" height="13" fill="#f23645"/>
<rect x="959" y="556" width="1" height="28" fill="#089981"/>
<rect x="958" y="565" width="3" height="3" fill="#089981"/>
<rect x="962" y="564" width="1" height="14" fill="#f23645"/>
<rect x="961" y="565" width="3" height="5" fill="#f23645"/>
<rect x="965" y="549" width="1" height="21" fill="#089981"/>
<rect x="964" y="550" width="3" height="20" fill="#089981"/>
<rect x="968" y="547" width="1" height="13" fill="#f23645"/>
<rect x="967" y="550" width="3" height="4" fill="#f23645"/>
<rect x="971" y="551" width="1" height="16" fill="#f23645"/>
<rect x="970" y="552" width="3" height="15" fill="#f23645"/>
<rect x="974" y="560" width="1" height="10" fill="#089981"/>
<rect x="973" y="564" width="3" height="4" fill="#089981"/>
<rect x="977" y="562" width="1" height="13" fill="#f23645"/>
<rect x="976" y="564" width="3" height="7" fill="#f23645"/>
<rect x="981" y="558" width="1" height="15" fill="#f23645"/>
<rect x="980" y="566" width="3" height="1" fill="#f23645"/>
<rect x="984" y="564" width="1" height="7" fill="#f23645"/>
<rect x="983" y="566" width="3" height="1" fill="#f23645"/>
<rect x="987" y="560" width="1" height="13" fill="#f23645"/>
<rect x="986" y="567" width="3" height="6" fill="#f23645"/>
<rect x="990" y="560" width="1" height="15" fill="#089981"/>
<rect x="989" y="563" width="3" height="10" fill="#089981"/>
<rect x="993" y="558" width="1" height="7" fill="#089981"/>
<rect x="992" y="560" width="3" height="4" fill="#089981"/>
<rect x="996" y="555" width="1" height="7" fill="#089981"/>
<rect x="995" y="555" width="3" height="6" fill="#089981"/>
<rect x="999" y="548" width="1" height="10" fill="#089981"/>
<rect x="998" y="551" width="3" height="5" fill="#089981"/>
<rect x="1002" y="541" width="1" height="14" fill="#089981"/>
<rect x="1001" y="542" width="3" height="10" fill="#089981"/>
<rect x="1005" y="534" width="1" height="16" fill="#f23645"/>
<rect x="1004" y="542" width="3" height="7" fill="#f23645"/>
<rect x="1008" y="543" width="1" height="73" fill="#f23645"/>
<rect x="1007" y="543" width="3" height="73" fill="#f23645"/>
<rect x="1011" y="599" width="1" height="42" fill="#f23645"/>
<rect x="1010" y="615" width="3" height="24" fill="#f23645"/>
<rect x="1014" y="579" width="1" height="71" fill="#089981"/>
<rect x="1013" y="582" width="3" height="57" fill="#089981"/>
<rect x="1017" y="579" width="1" height="40" fill="#f23645"/>
<rect x="1016" y="582" width="3" height="35" fill="#f23645"/>
<rect x="1020" y="603" width="1" height="31" fill="#f23645"/>
<rect x="1019" y="616" width="3" height="18" fill="#f23645"/>
<rect x="1023" y="610" width="1" height="35" fill="#089981"/>
<rect x="1022" y="619" width="3" height="15" fill="#089981"/>
<rect x="1026" y="586" width="1" height="35" fill="#089981"/>
<rect x="1025" y="591" width="3" height="30" fill="#089981"/>
<rect x="1029" y="578" width="1" height="29" fill="#f23645"/>
<rect x="1028" y="591" width="3" height="11" fill="#f23645"/>
<rect x="1032" y="556" width="1" height="46" fill="#089981"/>
<rect x="1031" y="569" width="3" height="33" fill="#089981"/>
<rect x="1035" y="541" width="1" height="35" fill="#089981"/>
<rect x="1034" y="548" width="3" height="22" fill="#089981"/>
<rect x="1039" y="545" width="1" height="24" fill="#f23645"/>
<rect x="1038" y="548" width="3" height="6" fill="#f23645"/>
<rect x="1042" y="543" width="1" height="13" fill="#089981"/>
<rect x="1041" y="550" width="3" height="4" fill="#089981"/>
<rect x="1045" y="533" width="1" height="20" fill="#089981"/>
<rect x="1044" y="534" width="3" height="16" fill="#089981"/>
<rect x="1048" y="534" width="1" height="12" fill="#f23645"/>
<rect x="1047" y="534" width="3" height="10" fill="#f23645"/>
<rect x="1051" y="529" width="1" height="19" fill="#089981"/>
<rect x="1050" y="533" width="3" height="11" fill="#089981"/>
<rect x="1054" y="526" width="1" height="13" fill="#f23645"/>
<rect x="1053" y="531" width="3" height="4" fill="#f23645"/>
<rect x="1057" y="532" width="1" height="4" fill="#089981"/>
<rect x="1056" y="533" width="3" height="1" fill="#089981"/>
<rect x="1060" y="524" width="1" height="9" fill="#089981"/>
<rect x="1059" y="528" width="3" height="4" fill="#089981"/>
<rect x="1063" y="524" width="1" height="10" fill="#089981"/>
<rect x="1062" y="527" width="3" height="1" fill="#089981"/>
<rect x="1066" y="524" width="1" height="12" fill="#f23645"/>
<rect x="1065" y="527" width="3" height="9" fill="#f23645"/>
<rect x="1069" y="528" width="1" height="8" fill="#089981"/>
<rect x="1068" y="530" width="3" height="6" fill="#089981"/>
<rect x="1072" y="527" width="1" height="13" fill="#f23645"/>
<rect x="1071" y="531" width="3" height="7" fill="#f23645"/>
<rect x="1075" y="530" width="1" height="8" fill="#089981"/>
<rect x="1074" y="534" width="3" height="4" fill="#089981"/>
<rect x="1078" y="532" width="1" height="19" fill="#f23645"/>
<rect x="1077" y="533" width="3" height="6" fill="#f23645"/>
<rect x="1081" y="499" width="1" height="53" fill="#089981"/>
<rect x="1080" y="513" width="3" height="26" fill="#089981"/>
<rect x="1084" y="509" width="1" height="34" fill="#f23645"/>
<rect x="1083" y="513" width="3" height="23" fill="#f23645"/>
<rect x="1087" y="488" width="1" height="52" fill="#089981"/>
<rect x="1086" y="497" width="3" height="39" fill="#089981"/>
<rect x="1090" y="487" width="1" height="33" fill="#f23645"/>
<rect x="1089" y="497" width="3" height="9" fill="#f23645"/>
<rect x="1094" y="496" width="1" height="18" fill="#089981"/>
<rect x="1093" y="503" width="3" height="3" fill="#089981"/>
<rect x="1097" y="480" width="1" height="25" fill="#089981"/>
<rect x="1096" y="495" width="3" height="9" fill="#089981"/>
<rect x="1100" y="475" width="1" height="27" fill="#089981"/>
<rect x="1099" y="492" width="3" height="4" fill="#089981"/>
<rect x="1103" y="486" width="1" height="65" fill="#f23645"/>
<rect x="1102" y="492" width="3" height="45" fill="#f23645"/>
<rect x="1106" y="526" width="1" height="32" fill="#089981"/>
<rect x="1105" y="530" width="3" height="6" fill="#089981"/>
<rect x="1109" y="508" width="1" height="39" fill="#089981"/>
<rect x="1108" y="523" width="3" height="7" fill="#089981"/>
<rect x="1112" y="505" width="1" height="25" fill="#089981"/>
<rect x="1111" y="506" width="3" height="18" fill="#089981"/>
<rect x="1115" y="500" width="1" height="10" fill="#f23645"/>
<rect x="1114" y="506" width="3" height="2" fill="#f23645"/>
<rect x="1118" y="494" width="1" height="14" fill="#089981"/>
<rect x="1117" y="497" width="3" height="11" fill="#089981"/>
<rect x="1121" y="489" width="1" height="10" fill="#089981"/>
<rect x="1120" y="496" width="3" height="2" fill="#089981"/>
<rect x="1124" y="490" width="1" height="7" fill="#089981"/>
<rect x="1123" y="493" width="3" height="4" fill="#089981"/>
<rect x="1127" y="490" width="1" height="18" fill="#f23645"/>
<rect x="1126" y="493" width="3" height="1" fill="#f23645"/>
<rect x="1130" y="482" width="1" height="17" fill="#089981"/>
<rect x="1129" y="491" width="3" height="7" fill="#089981"/>
<rect x="1133" y="485" width="1" height="11" fill="#f23645"/>
<rect x="1132" y="490" width="3" height="6" fill="#f23645"/>
<rect x="1136" y="490" width="1" height="23" fill="#f23645"/>
<rect x="1135" y="495" width="3" height="16" fill="#f23645"/>
<rect x="1139" y="497" width="1" height="14" fill="#089981"/>
<rect x="1138" y="498" width="3" height="13" fill="#089981"/>
<rect x="1142" y="496" width="1" height="16" fill="#f23645"/>
<rect x="1141" y="498" width="3" height="13" fill="#f23645"/>
<rect x="1145" y="507" width="1" height="8" fill="#f23645"/>
<rect x="1144" y="510" width="3" height="2" fill="#f23645"/>
<rect x="1148" y="509" width="1" height="6" fill="#089981"/>
<rect x="1147" y="510" width="3" height="1" fill="#089981"/>
<rect x="1152" y="501" width="1" height="14" fill="#f23645"/>
<rect x="1151" y="510" width="3" height="5" fill="#f23645"/>
<rect x="1155" y="483" width="1" height="31" fill="#089981"/>
<rect x="1154" y="506" width="3" height="8" fill="#089981"/>
<rect x="1158" y="472" width="1" height="40" fill="#089981"/>
<rect x="1157" y="479" width="3" height="28" fill="#089981"/>
<rect x="1161" y="471" width="1" height="29" fill="#089981"/>
<rect x="1160" y="475" width="3" height="5" fill="#089981"/>
<rect x="1164" y="437" width="1" height="39" fill="#089981"/>
<rect x="1163" y="443" width="3" height="33" fill="#089981"/>
<rect x="1167" y="428" width="1" height="38" fill="#f23645"/>
<rect x="1166" y="443" width="3" height="21" fill="#f23645"/>
<rect x="1170" y="448" width="1" height="27" fill="#089981"/>
<rect x="1169" y="457" width="3" height="7" fill="#089981"/>
<rect x="1173" y="440" width="1" height="25" fill="#089981"/>
<rect x="1172" y="450" width="3" height="8" fill="#089981"/>
<rect x="1176" y="444" width="1" height="36" fill="#f23645"/>
<rect x="1175" y="450" width="3" height="30" fill="#f23645"/>
<rect x="1179" y="433" width="1" height="49" fill="#089981"/>
<rect x="1178" y="437" width="3" height="43" fill="#089981"/>
<rect x="1182" y="437" width="1" height="20" fill="#f23645"/>
<rect x="1181" y="437" width="3" height="19" fill="#f23645"/>
<rect x="1185" y="445" width="1" height="17" fill="#089981"/>
<rect x="1184" y="446" width="3" height="10" fill="#089981"/>
<rect x="1188" y="439" width="1" height="22" fill="#f23645"/>
<rect x="1187" y="446" width="3" height="15" fill="#f23645"/>
<rect x="1191" y="454" width="1" height="9" fill="#089981"/>
<rect x="1190" y="454" width="3" height="7" fill="#089981"/>
<rect x="1194" y="451" width="1" height="15" fill="#f23645"/>
<rect x="1193" y="454" width="3" height="1" fill="#f23645"/>
<rect x="1197" y="442" width="1" height="17" fill="#f23645"/>
<rect x="1196" y="455" width="3" height="4" fill="#f23645"/>
<rect x="1200" y="438" width="1" height="21" fill="#089981"/>
<rect x="1199" y="445" width="3" height="14" fill="#089981"/>
<rect x="1203" y="445" width="1" height="10" fill="#f23645"/>
<rect x="1202" y="445" width="3" height="9" fill="#f23645"/>
<rect x="1206" y="448" width="1" height="12" fill="#089981"/>
<rect x="1205" y="452" width="3" height="2" fill="#089981"/>
<rect x="1210" y="447" width="1" height="11" fill="#f23645"/>
<rect x="1209" y="451" width="3" height="7" fill="#f23645"/>
<rect x="1213" y="444" width="1" height="15" fill="#089981"/>
<rect x="1212" y="444" width="3" height="14" fill="#089981"/>
<rect x="1216" y="434" width="1" height="11" fill="#089981"/>
<rect x="1215" y="441" width="3" height="4" fill="#089981"/>
<rect x="1219" y="438" width="1" height="11" fill="#f23645"/>
<rect x="1218" y="442" width="3" height="7" fill="#f23645"/>
<rect x="1222" y="445" width="1" height="10" fill="#089981"/>
<rect x="1221" y="447" width="3" height="1" fill="#089981"/>
<rect x="1225" y="443" width="1" height="8" fill="#089981"/>
<rect x="1224" y="444" width="3" height="4" fill="#089981"/>
<rect x="1228" y="438" width="1" height="34" fill="#f23645"/>
<rect x="1227" y="444" width="3" height="28" fill="#f23645"/>
<rect x="1231" y="465" width="1" height="24" fill="#089981"/>
<rect x="1230" y="467" width="3" height="5" fill="#089981"/>
<rect x="1234" y="456" width="1" height="27" fill="#f23645"/>
<rect x="1233" y="467" width="3" height="9" fill="#f23645"/>
<rect x="1237" y="454" width="1" height="27" fill="#089981"/>
<rect x="1236" y="470" width="3" height="6" fill="#089981"/>
<rect x="1240" y="468" width="1" height="35" fill="#f23645"/>
<rect x="1239" y="470" width="3" height="32" fill="#f23645"/>
<rect x="1243" y="474" width="1" height="39" fill="#089981"/>
<rect x="1242" y="475" width="3" height="27" fill="#089981"/>
<rect x="1246" y="466" width="1" height="21" fill="#f23645"/>
<rect x="1245" y="475" width="3" height="3" fill="#f23645"/>
<rect x="1249" y="454" width="1" height="34" fill="#089981"/>
<rect x="1248" y="471" width="3" height="7" fill="#089981"/>
<rect x="1252" y="441" width="1" height="32" fill="#089981"/>
<rect x="1251" y="444" width="3" height="28" fill="#089981"/>
<rect x="1255" y="443" width="1" height="23" fill="#f23645"/>
<rect x="1254" y="443" width="3" height="4" fill="#f23645"/>
<rect x="1258" y="440" width="1" height="15" fill="#f23645"/>
<rect x="1257" y="447" width="3" height="7" fill="#f23645"/>
<rect x="1261" y="451" width="1" height="11" fill="#089981"/>
<rect x="1260" y="451" width="3" height="3" fill="#089981"/>
<rect x="1265" y="448" width="1" height="15" fill="#f23645"/>
<rect x="1264" y="452" width="3" height="11" fill="#f23645"/>
<rect x="1268" y="460" width="1" height="24" fill="#f23645"/>
<rect x="1267" y="461" width="3" height="22" fill="#f23645"/>
<rect x="1271" y="477" width="1" height="11" fill="#089981"/>
<rect x="1270" y="479" width="3" height="4" fill="#089981"/>
<rect x="1274" y="472" width="1" height="16" fill="#089981"/>
<rect x="1273" y="477" width="3" height="11" fill="#089981"/>
<rect x="1277" y="473" width="1" height="10" fill="#f23645"/>
<rect x="1276" y="477" width="3" height="4" fill="#f23645"/>
<rect x="1280" y="478" width="1" height="4" fill="#f23645"/>
<rect x="1279" y="479" width="3" height="3" fill="#f23645"/>
<rect x="1283" y="467" width="1" height="15" fill="#089981"/>
<rect x="1282" y="471" width="3" height="11" fill="#089981"/>
<rect x="1286" y="464" width="1" height="18" fill="#f23645"/>
<rect x="1285" y="471" width="3" height="9" fill="#f23645"/>
<rect x="1289" y="461" width="1" height="19" fill="#089981"/>
<rect x="1288" y="462" width="3" height="18" fill="#089981"/>
<rect x="1292" y="458" width="1" height="7" fill="#089981"/>
<rect x="1291" y="462" width="3" height="1" fill="#089981"/>
<rect x="1295" y="462" width="1" height="6" fill="#f23645"/>
<rect x="1294" y="462" width="3" height="6" fill="#f23645"/>
<rect x="1298" y="462" width="1" height="11" fill="#089981"/>
<rect x="1297" y="465" width="3" height="3" fill="#089981"/>
<rect x="1301" y="455" width="1" height="16" fill="#089981"/>
<rect x="1300" y="458" width="3" height="8" fill="#089981"/>
<rect x="1304" y="457" width="1" height="33" fill="#f23645"/>
<rect x="1303" y="458" width="3" height="26" fill="#f23645"/>
<rect x="1307" y="478" width="1" height="30" fill="#f23645"/>
<rect x="1306" y="484" width="3" height="15" fill="#f23645"/>
<rect x="1310" y="491" width="1" height="19" fill="#f23645"/>
<rect x="1309" y="498" width="3" height="1" fill="#f23645"/>
<rect x="1313" y="464" width="1" height="39" fill="#089981"/>
<rect x="1312" y="493" width="3" height="8" fill="#089981"/>
<rect x="1316" y="481" width="1" height="59" fill="#f23645"/>
<rect x="1315" y="493" width="3" height="45" fill="#f23645"/>
<rect x="1319" y="517" width="1" height="38" fill="#089981"/>
<rect x="1318" y="522" width="3" height="16" fill="#089981"/>
<rect x="1323" y="520" width="1" height="51" fill="#f23645"/>
<rect x="1322" y="522" width="3" height="43" fill="#f23645"/>
<rect x="1326" y="551" width="1" height="35" fill="#f23645"/>
<rect x="1325" y="564" width="3" height="4" fill="#f23645"/>
<rect x="1329" y="540" width="1" height="28" fill="#089981"/>
<rect x="1328" y="552" width="3" height="16" fill="#089981"/>
<rect x="1332" y="540" width="1" height="14" fill="#089981"/>
<rect x="1331" y="543" width="3" height="10" fill="#089981"/>
<rect x="1335" y="531" width="1" height="15" fill="#089981"/>
<rect x="1334" y="536" width="3" height="8" fill="#089981"/>
<rect x="1338" y="526" width="1" height="12" fill="#089981"/>
<rect x="1337" y="531" width="3" height="6" fill="#089981"/>
<rect x="1341" y="526" width="1" height="9" fill="#f23645"/>
<rect x="1340" y="531" width="3" height="3" fill="#f23645"/>
<rect x="1344" y="525" width="1" height="15" fill="#f23645"/>
<rect x="1343" y="532" width="3" height="3" fill="#f23645"/>
<rect x="1347" y="532" width="1" height="9" fill="#f23645"/>
<rect x="1346" y="534" width="3" height="1" fill="#f23645"/>
<rect x="1350" y="533" width="1" height="12" fill="#f23645"/>
<rect x="1349" y="534" width="3" height="2" fill="#f23645"/>
<rect x="1353" y="523" width="1" height="14" fill="#089981"/>
<rect x="1352" y="530" width="3" height="6" fill="#089981"/>
<rect x="1356" y="526" width="1" height="7" fill="#089981"/>
<rect x="1355" y="529" width="3" height="1" fill="#089981"/>
<rect x="1359" y="518" width="1" height="13" fill="#089981"/>
<rect x="1358" y="520" width="3" height="9" fill="#089981"/>
<rect x="1362" y="517" width="1" height="9" fill="#f23645"/>
<rect x="1361" y="520" width="3" height="1" fill="#f23645"/>
<rect x="1365" y="511" width="1" height="11" fill="#089981"/>
<rect x="1364" y="512" width="3" height="10" fill="#089981"/>
<rect x="1368" y="497" width="1" height="17" fill="#089981"/>
<rect x="1367" y="500" width="3" height="12" fill="#089981"/>
<rect x="1371" y="496" width="1" height="13" fill="#f23645"/>
<rect x="1370" y="501" width="3" height="3" fill="#f23645"/>
<rect x="1374" y="495" width="1" height="16" fill="#f23645"/>
<rect x="1373" y="502" width="3" height="9" fill="#f23645"/>
<rect x="1377" y="509" width="1" height="69" fill="#f23645"/>
<rect x="1376" y="510" width="3" height="50" fill="#f23645"/>
<rect x="1381" y="528" width="1" height="46" fill="#f23645"/>
<rect x="1380" y="558" width="3" height="12" fill="#f23645"/>
<rect x="1384" y="543" width="1" height="44" fill="#f23645"/>
<rect x="1383" y="569" width="3" height="18" fill="#f23645"/>
<rect x="1387" y="554" width="1" height="34" fill="#089981"/>
<rect x="1386" y="572" width="3" height="15" fill="#089981"/>
<rect x="1390" y="563" width="1" height="33" fill="#f23645"/>
<rect x="1389" y="571" width="3" height="24" fill="#f23645"/>
<rect x="1393" y="568" width="1" height="29" fill="#089981"/>
<rect x="1392" y="581" width="3" height="13" fill="#089981"/>
<rect x="1396" y="573" width="1" height="28" fill="#f23645"/>
<rect x="1395" y="582" width="3" height="1" fill="#f23645"/>
<rect x="1399" y="548" width="1" height="37" fill="#089981"/>
<rect x="1398" y="566" width="3" height="17" fill="#089981"/>
<rect x="1402" y="558" width="1" height="31" fill="#f23645"/>
<rect x="1401" y="565" width="3" height="18" fill="#f23645"/>
<rect x="1405" y="582" width="1" height="21" fill="#f23645"/>
<rect x="1404" y="582" width="3" height="18" fill="#f23645"/>
<rect x="1408" y="586" width="1" height="14" fill="#089981"/>
<rect x="1407" y="592" width="3" height="8" fill="#089981"/>
<rect x="1411" y="571" width="1" height="22" fill="#089981"/>
<rect x="1410" y="582" width="3" height="11" fill="#089981"/>
<rect x="1414" y="569" width="1" height="14" fill="#089981"/>
<rect x="1413" y="573" width="3" height="10" fill="#089981"/>
<rect x="1417" y="573" width="1" height="12" fill="#f23645"/>
<rect x="1416" y="573" width="3" height="7" fill="#f23645"/>
<rect x="1420" y="576" width="1" height="11" fill="#f23645"/>
<rect x="1419" y="579" width="3" height="8" fill="#f23645"/>
<rect x="1423" y="569" width="1" height="18" fill="#089981"/>
<rect x="1422" y="569" width="3" height="18" fill="#089981"/>
<rect x="1426" y="561" width="1" height="11" fill="#089981"/>
<rect x="1425" y="562" width="3" height="9" fill="#089981"/>
<rect x="1429" y="547" width="1" height="16" fill="#089981"/>
<rect x="1428" y="551" width="3" height="12" fill="#089981"/>
<rect x="1432" y="536" width="1" height="19" fill="#089981"/>
<rect x="1431" y="537" width="3" height="15" fill="#089981"/>
<rect x="1436" y="528" width="1" height="11" fill="#089981"/>
<rect x="1435" y="531" width="3" height="8" fill="#089981"/>
<rect x="1439" y="529" width="1" height="8" fill="#089981"/>
<rect x="1438" y="531" width="3" height="1" fill="#089981"/>
<rect x="1442" y="526" width="1" height="9" fill="#089981"/>
<rect x="1441" y="529" width="3" height="3" fill="#089981"/>
<rect x="1445" y="525" width="1" height="9" fill="#f23645"/>
<rect x="1444" y="529" width="3" height="1" fill="#f23645"/>
<rect x="1448" y="519" width="1" height="20" fill="#f23645"/>
<rect x="1447" y="531" width="3" height="4" fill="#f23645"/>
<rect x="1451" y="501" width="1" height="46" fill="#089981"/>
<rect x="1450" y="511" width="3" height="24" fill="#089981"/>
<rect x="1454" y="488" width="1" height="58" fill="#089981"/>
<rect x="1453" y="498" width="3" height="14" fill="#089981"/>
<rect x="1457" y="466" width="1" height="39" fill="#089981"/>
<rect x="1456" y="478" width="3" height="22" fill="#089981"/>
<rect x="1460" y="441" width="1" height="42" fill="#089981"/>
<rect x="1459" y="449" width="3" height="30" fill="#089981"/>
<rect x="1463" y="444" width="1" height="26" fill="#f23645"/>
<rect x="1462" y="449" width="3" height="11" fill="#f23645"/>
<rect x="1466" y="432" width="1" height="29" fill="#089981"/>
<rect x="1465" y="454" width="3" height="7" fill="#089981"/>
<rect x="1469" y="444" width="1" height="52" fill="#f23645"/>
<rect x="1468" y="454" width="3" height="40" fill="#f23645"/>
<rect x="1472" y="440" width="1" height="58" fill="#089981"/>
<rect x="1471" y="443" width="3" height="51" fill="#089981"/>
<rect x="1475" y="429" width="1" height="23" fill="#089981"/>
<rect x="1474" y="436" width="3" height="8" fill="#089981"/>
</g>
<line x1="10" y1="436.5" x2="1653" y2="436.5" stroke="#089981" stroke-width="1" stroke-dasharray="1 2" shape-rendering="crispEdges"/>
<g font-size="12" fill="#131722" stroke="#131722" stroke-width="0.15">
<text y="41.9" x="1661.00 1667.31 1671.61 1677.97 1684.33 1690.69 1697.05">0.85200</text>
<text y="86.9" x="1661.00 1667.31 1671.61 1677.97 1684.33 1690.69 1697.05">0.85100</text>
<text y="131.9" x="1661.00 1667.31 1671.61 1677.97 1684.33 1690.69 1697.05">0.85000</text>
<text y="176.9" x="1661.00 1667.31 1671.61 1677.97 1684.33 1690.69 1697.05">0.84900</text>
<text y="220.9" x="1661.00 1667.31 1671.61 1677.97 1684.33 1690.69 1697.05">0.84800</text>
<text y="265.9" x="1661.00 1667.31 1671.61 1677.97 1684.33 1690.69 1697.05">0.84700</text>
<text y="310.9" x="1661.00 1667.31 1671.61 1677.97 1684.33 1690.69 1697.05">0.84600</text>
<text y="355.9" x="1661.00 1667.31 1671.61 1677.97 1684.33 1690.69 1697.05">0.84500</text>
<text y="399.9" x="1661.00 1667.31 1671.61 1677.97 1684.33 1690.69 1697.05">0.84400</text>
<text y="489.9" x="1661.00 1667.31 1671.61 1677.97 1684.33 1690.69 1697.05">0.84200</text>
<text y="534.9" x="1661.00 1667.31 1671.61 1677.97 1684.33 1690.69 1697.05">0.84100</text>
<text y="578.9" x="1661.00 1667.31 1671.61 1677.97 1684.33 1690.69 1697.05">0.84000</text>
<text y="623.9" x="1661.00 1667.31 1671.61 1677.97 1684.33 1690.69 1697.05">0.83900</text>
<text y="668.9" x="1661.00 1667.31 1671.61 1677.97 1684.33 1690.69 1697.05">0.83800</text>
<text y="713.9" x="1661.00 1667.31 1671.61 1677.97 1684.33 1690.69 1697.05">0.83700</text>
<text y="757.9" x="1661.00 1667.31 1671.61 1677.97 1684.33 1690.69 1697.05">0.83600</text>
</g>
<path d="M1653 428h54a2 2 0 0 1 2 2v13a2 2 0 0 1 -2 2h-54z" fill="#089981"/>
<path d="M1653 494h54a2 2 0 0 1 2 2v13a2 2 0 0 1 -2 2h-54z" fill="#000"/>
<g font-size="12" fill="#fff" stroke="#fff" stroke-width="0.45">
<text y="440.6" x="1661.00 1667.31 1671.61 1677.97 1684.33 1690.69 1697.05">0.84311</text>
<text y="506.6" x="1661.00 1667.31 1671.61 1677.97 1684.33 1690.69 1697.05">0.84163</text>
</g>
<g font-size="12" fill="#131722" stroke="#131722" stroke-width="0.1" text-anchor="middle">
<text x="110.2" y="790" textLength="17.4" lengthAdjust="spacingAndGlyphs">Jul</text>
<text x="257.2" y="790" textLength="6.3" lengthAdjust="spacingAndGlyphs">3</text>
<text x="403.2" y="790" textLength="6.3" lengthAdjust="spacingAndGlyphs">5</text>
<text x="550.2" y="790" textLength="6.3" lengthAdjust="spacingAndGlyphs">9</text>
<text x="697.2" y="790" textLength="12.7" lengthAdjust="spacingAndGlyphs">11</text>
<text x="834.2" y="790" textLength="12.7" lengthAdjust="spacingAndGlyphs">14</text>
<text x="916.2" y="790" textLength="12.7" lengthAdjust="spacingAndGlyphs">16</text>
<text x="1063.2" y="790" textLength="12.7" lengthAdjust="spacingAndGlyphs">18</text>
<text x="1200.2" y="790" textLength="12.7" lengthAdjust="spacingAndGlyphs">21</text>
<text x="1283.2" y="790" textLength="12.7" lengthAdjust="spacingAndGlyphs">23</text>
<text x="1429.2" y="790" textLength="12.7" lengthAdjust="spacingAndGlyphs">25</text>
<text x="1576.2" y="790" textLength="12.7" lengthAdjust="spacingAndGlyphs">28</text>
</g>
<g font-size="12" fill="#131722" stroke="#131722" stroke-width="0.1">
<text y="29"><tspan x="18.4" textLength="48.2" lengthAdjust="spacingAndGlyphs">EUR/GBP</tspan> <tspan x="70.8" textLength="26.7" lengthAdjust="spacingAndGlyphs">Spot,</tspan> <tspan x="103.2" textLength="12.1" lengthAdjust="spacingAndGlyphs">1h</tspan> <tspan x="122.6" textLength="7.6" lengthAdjust="spacingAndGlyphs">O</tspan><tspan x="130.60 136.91 141.21 147.57 153.93 160.29 166.65" fill="#089981" stroke="#089981">0.84295</tspan> <tspan x="180.4" textLength="7.2" lengthAdjust="spacingAndGlyphs">H</tspan><tspan x="188.00 194.31 198.61 204.97 211.33 217.69 224.05" fill="#089981" stroke="#089981">0.84325</tspan> <tspan x="237.3" textLength="5.5" lengthAdjust="spacingAndGlyphs">L</tspan><tspan x="243.30 249.61 253.91 260.27 266.63 272.99 279.35" fill="#089981" stroke="#089981">0.84274</tspan> <tspan x="293" textLength="6.6" lengthAdjust="spacingAndGlyphs">C</tspan><tspan x="300.00 306.15 310.45 316.65 322.85 329.05 335.25" fill="#089981" stroke="#089981">0.84311</tspan> <tspan x="350.00 356.40 362.63 366.93 373.21 379.49 385.77 392.05" fill="#089981" stroke="#089981">+0.00016</tspan> <tspan x="402" textLength="44" lengthAdjust="spacingAndGlyphs" fill="#089981" stroke="#089981">(+0.02%)</tspan></text>
<text y="45.7"><tspan x="18.4" textLength="21.3" lengthAdjust="spacingAndGlyphs">EMA</tspan> <tspan x="44.6" textLength="16.7" lengthAdjust="spacingAndGlyphs">(50,</tspan> <tspan x="68.9" textLength="30.3" lengthAdjust="spacingAndGlyphs">close,</tspan> <tspan x="104.2" textLength="10" lengthAdjust="spacingAndGlyphs">0)</tspan></text>
<text y="62.7"><tspan x="18.4" textLength="21.3" lengthAdjust="spacingAndGlyphs">EMA</tspan> <tspan x="44.6" textLength="22" lengthAdjust="spacingAndGlyphs">(200,</tspan> <tspan x="75.2" textLength="30.2" lengthAdjust="spacingAndGlyphs">close,</tspan> <tspan x="110.3" textLength="9.8" lengthAdjust="spacingAndGlyphs">0)</tspan> <tspan x="128.00 134.15 138.45 144.65 150.85 157.05 163.25">0.84163</tspan></text>
</g>
<g fill="#131722">
<path d="M10.1 812.2H18.1V821.9H13.9V816H10.1Z"/>
<circle cx="21.1" cy="814.05" r="1.95"/>
<path d="M24.7 812.2H29.9L26.1 821.9H21.2Z"/>
<text x="33" y="821.9" font-size="12.6" textLength="70.6" lengthAdjust="spacingAndGlyphs" fill="#1e222d">TradingView</text>
</g>
</svg></body></html>
